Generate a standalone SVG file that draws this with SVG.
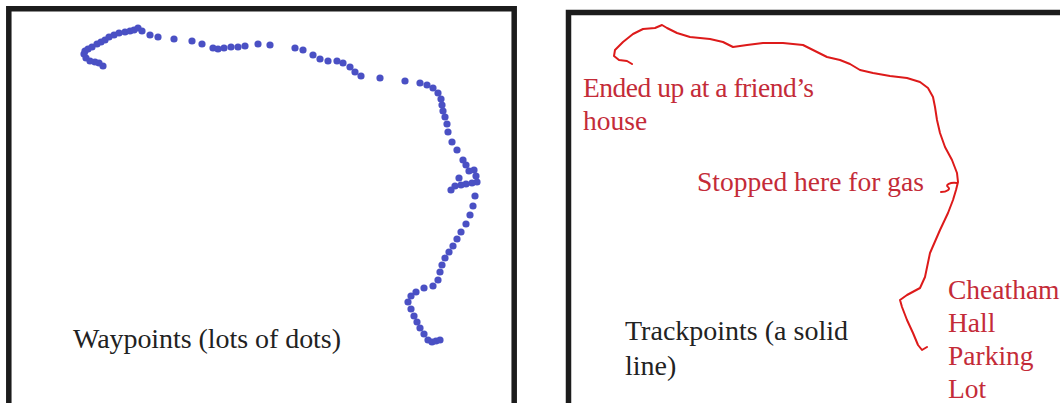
<svg xmlns="http://www.w3.org/2000/svg" width="1060" height="403" viewBox="0 0 1060 403">
<style>
.frame{fill:none;stroke:#1c1c1c;stroke-width:5.5}
.dot{fill:#4a50c4}
.track{fill:none;stroke:#dd1a1a;stroke-width:2;stroke-linejoin:round;stroke-linecap:round}
.lbl{font-family:"Liberation Serif","Times New Roman",serif;font-size:28px;fill:#222}
.red{font-family:"Liberation Serif","Times New Roman",serif;font-size:27.5px;fill:#c42b38}
</style>
<rect width="1060" height="403" fill="#ffffff"/>
<g id="waypoints-panel">
<path class="frame" d="M8.8,420 V8.8 H514.2 V420"/>
<g id="waypoint-dots">
<circle class="dot" cx="103" cy="66" r="3.6"/><circle class="dot" cx="99" cy="63" r="3.6"/><circle class="dot" cx="95" cy="62" r="3.6"/><circle class="dot" cx="90" cy="61" r="3.6"/><circle class="dot" cx="86" cy="58" r="3.6"/><circle class="dot" cx="84" cy="54" r="3.6"/><circle class="dot" cx="85" cy="51" r="3.6"/><circle class="dot" cx="88" cy="49" r="3.6"/><circle class="dot" cx="92" cy="47" r="3.6"/><circle class="dot" cx="97" cy="44" r="3.6"/><circle class="dot" cx="101" cy="42" r="3.6"/><circle class="dot" cx="105" cy="40" r="3.6"/><circle class="dot" cx="109" cy="37" r="3.6"/><circle class="dot" cx="114" cy="35" r="3.6"/><circle class="dot" cx="119" cy="33" r="3.6"/><circle class="dot" cx="125" cy="32" r="3.6"/><circle class="dot" cx="130" cy="31" r="3.6"/><circle class="dot" cx="134" cy="30" r="3.6"/><circle class="dot" cx="138" cy="28" r="3.6"/><circle class="dot" cx="142" cy="31" r="3.6"/>
<circle class="dot" cx="150" cy="35" r="3.6"/><circle class="dot" cx="158" cy="37" r="3.6"/><circle class="dot" cx="174" cy="39" r="3.6"/><circle class="dot" cx="192" cy="41" r="3.6"/><circle class="dot" cx="202" cy="44" r="3.6"/><circle class="dot" cx="213" cy="48" r="3.6"/><circle class="dot" cx="218" cy="49" r="3.6"/><circle class="dot" cx="224" cy="48" r="3.6"/><circle class="dot" cx="231" cy="47" r="3.6"/><circle class="dot" cx="238" cy="47" r="3.6"/><circle class="dot" cx="245" cy="46" r="3.6"/><circle class="dot" cx="258" cy="44" r="3.6"/><circle class="dot" cx="270" cy="45" r="3.6"/>
<circle class="dot" cx="295" cy="48" r="3.6"/><circle class="dot" cx="303" cy="50" r="3.6"/><circle class="dot" cx="313" cy="55" r="3.6"/><circle class="dot" cx="320" cy="59" r="3.6"/><circle class="dot" cx="328" cy="61" r="3.6"/><circle class="dot" cx="337" cy="61" r="3.6"/><circle class="dot" cx="343" cy="63" r="3.6"/><circle class="dot" cx="350" cy="67" r="3.6"/><circle class="dot" cx="355" cy="72" r="3.6"/><circle class="dot" cx="361" cy="76" r="3.6"/><circle class="dot" cx="380" cy="78" r="3.6"/><circle class="dot" cx="405" cy="81" r="3.6"/><circle class="dot" cx="420" cy="83" r="3.6"/><circle class="dot" cx="427" cy="85" r="3.6"/><circle class="dot" cx="433" cy="88" r="3.6"/><circle class="dot" cx="438" cy="93" r="3.6"/><circle class="dot" cx="441" cy="99" r="3.6"/><circle class="dot" cx="442" cy="105" r="3.6"/><circle class="dot" cx="443" cy="111" r="3.6"/><circle class="dot" cx="445" cy="117" r="3.6"/><circle class="dot" cx="447" cy="124" r="3.6"/><circle class="dot" cx="448" cy="132" r="3.6"/><circle class="dot" cx="452" cy="142" r="3.6"/><circle class="dot" cx="457" cy="150" r="3.6"/><circle class="dot" cx="463" cy="160" r="3.6"/><circle class="dot" cx="466" cy="165" r="3.6"/><circle class="dot" cx="469" cy="171" r="3.6"/><circle class="dot" cx="474" cy="170" r="3.6"/>
<circle class="dot" cx="476" cy="176" r="3.6"/><circle class="dot" cx="477" cy="182" r="3.6"/><circle class="dot" cx="472" cy="183" r="3.6"/><circle class="dot" cx="466" cy="184" r="3.6"/><circle class="dot" cx="459" cy="178" r="3.6"/><circle class="dot" cx="461" cy="185" r="3.6"/><circle class="dot" cx="455" cy="186" r="3.6"/><circle class="dot" cx="451" cy="190" r="3.6"/><circle class="dot" cx="475" cy="196" r="3.6"/><circle class="dot" cx="473" cy="206" r="3.6"/><circle class="dot" cx="470" cy="215" r="3.6"/><circle class="dot" cx="466" cy="224" r="3.6"/><circle class="dot" cx="461" cy="232" r="3.6"/><circle class="dot" cx="457" cy="239" r="3.6"/><circle class="dot" cx="453" cy="246" r="3.6"/><circle class="dot" cx="449" cy="252" r="3.6"/><circle class="dot" cx="445" cy="258" r="3.6"/><circle class="dot" cx="442" cy="265" r="3.6"/><circle class="dot" cx="440" cy="272" r="3.6"/><circle class="dot" cx="438" cy="280" r="3.6"/><circle class="dot" cx="433" cy="286" r="3.6"/><circle class="dot" cx="424" cy="288" r="3.6"/><circle class="dot" cx="416" cy="292" r="3.6"/><circle class="dot" cx="411" cy="296" r="3.6"/><circle class="dot" cx="408" cy="302" r="3.6"/><circle class="dot" cx="411" cy="309" r="3.6"/><circle class="dot" cx="414" cy="316" r="3.6"/><circle class="dot" cx="417" cy="322" r="3.6"/><circle class="dot" cx="420" cy="328" r="3.6"/><circle class="dot" cx="424" cy="334" r="3.6"/><circle class="dot" cx="428" cy="340" r="3.6"/><circle class="dot" cx="432" cy="342" r="3.6"/><circle class="dot" cx="436" cy="341" r="3.6"/><circle class="dot" cx="440" cy="340" r="3.6"/>
</g>
<text class="lbl" x="73" y="348" textLength="268">Waypoints (lots of dots)</text>
</g>
<g id="trackpoints-panel">
<path class="frame" d="M568.5,420 V12.5 H1070"/>
<g id="track-line">
<path class="track" d="M632,64 L627,61 L619,60 L614,56 L615,50 L623,42 L633,34 L643,29 L655,28 L662,25 L667,28 L677,33 L690,37 L710,39 L723,42 L733,47 L747,45 L763,43 L783,43 L803,45 L817,52 L827,57 L840,60 L850,64 L860,70 L873,73 L890,76 L907,78 L920,82 L928,88 L933,97 L935,107 L937,120 L940,133 L945,147 L952,160 L957,173 L958,182 L956,190 L953,200 L948,213 L940,230 L930,253 L925,277 L920,288 L907,295 L900,300 L902,307 L907,320 L913,333 L918,345 L922,350 L927,347"/>
<path class="track" d="M957,183 C950,182 945,185 948,187 C951,189 947,192 941,192"/>
</g>
<text class="red" x="583" y="97" textLength="231">Ended up at a friend’s</text>
<text class="red" x="583" y="130">house</text>
<text class="red" x="697" y="191" textLength="227">Stopped here for gas</text>
<text class="red" x="948" y="299">Cheatham</text>
<text class="red" x="948" y="332">Hall</text>
<text class="red" x="948" y="365">Parking</text>
<text class="red" x="948" y="398">Lot</text>
<text class="lbl" x="625" y="340" textLength="223">Trackpoints (a solid</text>
<text class="lbl" x="625" y="375">line)</text>
</g>
</svg>
